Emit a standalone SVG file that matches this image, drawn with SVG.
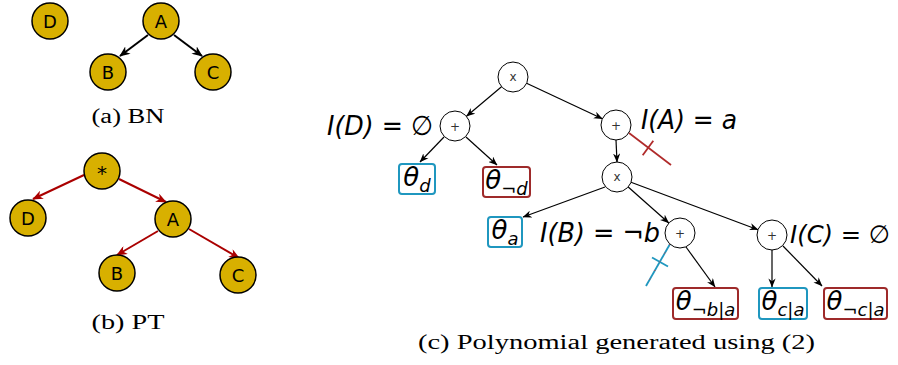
<svg xmlns="http://www.w3.org/2000/svg" width="898" height="365" viewBox="0 0 898 365">
<defs>
  <marker id="ah-a" viewBox="0 0 12 10" refX="11" refY="5" markerWidth="11" markerHeight="9" markerUnits="userSpaceOnUse" orient="auto">
    <path d="M0,0 L12,5 L0,10 L3.5,5 Z" fill="#000"/>
  </marker>
  <marker id="ah-b" viewBox="0 0 12 10" refX="11" refY="5" markerWidth="11" markerHeight="9" markerUnits="userSpaceOnUse" orient="auto">
    <path d="M0,0 L12,5 L0,10 L3.5,5 Z" fill="#aa0000"/>
  </marker>
  <marker id="ah-c" viewBox="0 0 10 8" refX="9.5" refY="4" markerWidth="9" markerHeight="7.5" markerUnits="userSpaceOnUse" orient="auto">
    <path d="M0,0 L10,4 L0,8 L3,4 Z" fill="#000"/>
  </marker>
</defs>
<style>
  .bn circle { fill: #d8b000; stroke: #000; stroke-width: 1.5; }
  .bn text { font-family: "DejaVu Sans", sans-serif; font-size: 18px; text-anchor: middle; fill: #000; }
  .op circle { fill: #fff; stroke: #000; stroke-width: 1; }
  .op text { font-family: "DejaVu Sans", sans-serif; font-size: 12px; text-anchor: middle; fill: #333; }
  .cap { font-family: "Liberation Serif", "Times New Roman", serif; font-size: 20px; fill: #000; text-anchor: middle; }
  .ea { stroke: #000; stroke-width: 2; fill: none; marker-end: url(#ah-a); }
  .eb { stroke: #aa0000; stroke-width: 2; fill: none; marker-end: url(#ah-b); }
  .ec { stroke: #000; stroke-width: 1.2; fill: none; marker-end: url(#ah-c); }
  .lbl { font-family: "DejaVu Sans", sans-serif; font-style: oblique; font-size: 27px; fill: #000; }
  .box-b { fill: #fff; stroke: #1f97bf; stroke-width: 2; }
  .box-r { fill: #fff; stroke: #9e2a2a; stroke-width: 2; }
  .th { font-family: "DejaVu Sans", sans-serif; font-style: oblique; font-size: 26px; fill: #000; text-anchor: middle; }
  .sub { font-size: 18px; }
</style>

<!-- (a) BN -->
<g id="connectors-a">
  <line class="ea" x1="148" y1="35" x2="120" y2="56"/>
  <line class="ea" x1="174" y1="35" x2="202" y2="56"/>
</g>
<g id="a-D" class="bn"><circle cx="50" cy="21" r="18"/><text x="50" y="27.5">D</text></g>
<g id="a-A" class="bn"><circle cx="161" cy="21" r="18"/><text x="161" y="27.5">A</text></g>
<g id="a-B" class="bn"><circle cx="108" cy="72" r="18"/><text x="108" y="78.5">B</text></g>
<g id="a-C" class="bn"><circle cx="213" cy="72" r="18"/><text x="213" y="78.5">C</text></g>
<text class="cap" x="128" y="123" textLength="73" lengthAdjust="spacingAndGlyphs">(a) BN</text>

<!-- (b) PT -->
<g id="connectors-b">
  <line class="eb" x1="84" y1="175" x2="33" y2="199"/>
  <line class="eb" x1="119" y1="179" x2="166" y2="202"/>
  <line class="eb" x1="158" y1="231" x2="117" y2="255"/>
  <line class="eb" x1="189" y1="229" x2="239" y2="258"/>
</g>
<g id="b-root" class="bn"><circle cx="102" cy="171" r="18"/><text x="102" y="180" style="font-size:20px">*</text></g>
<g id="b-D" class="bn"><circle cx="28" cy="218" r="18"/><text x="28" y="224.5">D</text></g>
<g id="b-A" class="bn"><circle cx="173" cy="219" r="18"/><text x="173" y="225.5">A</text></g>
<g id="b-B" class="bn"><circle cx="117" cy="273" r="18"/><text x="117" y="279.5">B</text></g>
<g id="b-C" class="bn"><circle cx="238" cy="275" r="18"/><text x="238" y="281.5">C</text></g>
<text class="cap" x="128" y="329" textLength="73" lengthAdjust="spacingAndGlyphs">(b) PT</text>

<!-- (c) Polynomial -->
<g id="connectors-c">
  <line class="ec" x1="501.5" y1="86.7" x2="466.5" y2="116.3"/>
  <line class="ec" x1="526.6" y1="83.3" x2="602.4" y2="118.7"/>
  <line class="ec" x1="444" y1="137" x2="420" y2="162"/>
  <line class="ec" x1="466" y1="137" x2="497" y2="165"/>
  <line class="ec" x1="616" y1="140" x2="617" y2="162"/>
  <line class="ec" x1="605" y1="187" x2="523" y2="217"/>
  <line class="ec" x1="628.2" y1="187" x2="668.8" y2="223"/>
  <line class="ec" x1="631" y1="182.3" x2="758" y2="229.7"/>
  <line class="ec" x1="686" y1="247" x2="715" y2="287"/>
  <line class="ec" x1="772" y1="250" x2="772" y2="287"/>
  <line class="ec" x1="783" y1="246" x2="822" y2="286"/>
  <!-- pruned branches -->
  <g stroke="#b02a2a" stroke-width="1.8" fill="none">
    <line x1="629" y1="133" x2="671" y2="165"/>
    <line x1="653.3" y1="140.8" x2="642.7" y2="155.2"/>
  </g>
  <g stroke="#1f97bf" stroke-width="1.8" fill="none">
    <line x1="670" y1="244" x2="646" y2="286"/>
    <line x1="652" y1="257.5" x2="668" y2="266.5"/>
  </g>
  <line x1="670" y1="244" x2="646" y2="286" stroke="#e03030" stroke-width="1" stroke-dasharray="1 9"/>
</g>

<g id="c-times1" class="op"><circle cx="513" cy="77" r="15"/><text x="513" y="81">x</text></g>
<g id="c-plusD" class="op"><circle cx="455" cy="126" r="15"/><text x="455" y="130.5">+</text></g>
<g id="c-plusA" class="op"><circle cx="616" cy="125" r="15"/><text x="616" y="129.5">+</text></g>
<g id="c-times2" class="op"><circle cx="617" cy="177" r="15"/><text x="617" y="181">x</text></g>
<g id="c-plusB" class="op"><circle cx="680" cy="233" r="15"/><text x="680" y="237.5">+</text></g>
<g id="c-plusC" class="op"><circle cx="772" cy="235" r="15"/><text x="772" y="239.5">+</text></g>

<g id="c-labels">
  <text class="lbl" x="327" y="135" textLength="106" lengthAdjust="spacingAndGlyphs">I(D) = ∅</text>
  <text class="lbl" x="641" y="129" textLength="96" lengthAdjust="spacingAndGlyphs">I(A) = a</text>
  <text class="lbl" x="540" y="242" textLength="120" lengthAdjust="spacingAndGlyphs">I(B) = ¬b</text>
  <text class="lbl" x="790" y="243" style="font-size:25px" textLength="100" lengthAdjust="spacingAndGlyphs">I(C) = ∅</text>
</g>

<g id="c-theta-d"><rect class="box-b" x="399" y="164" width="36" height="30" rx="3"/><text class="th" x="417" y="186">θ<tspan class="sub" dy="6">d</tspan></text></g>
<g id="c-theta-nd"><rect class="box-r" x="483" y="167" width="47" height="30" rx="3"/><text class="th" x="506.5" y="189">θ<tspan class="sub" dy="6">¬d</tspan></text></g>
<g id="c-theta-a"><rect class="box-b" x="488" y="217" width="34" height="30" rx="3"/><text class="th" x="505" y="239">θ<tspan class="sub" dy="6">a</tspan></text></g>
<g id="c-theta-nba"><rect class="box-r" x="673" y="288" width="65" height="31" rx="3"/><text class="th" x="705.5" y="310">θ<tspan class="sub" dy="6">¬b|a</tspan></text></g>
<g id="c-theta-ca"><rect class="box-b" x="759" y="288" width="48" height="31" rx="3"/><text class="th" x="783" y="310">θ<tspan class="sub" dy="6">c|a</tspan></text></g>
<g id="c-theta-nca"><rect class="box-r" x="824" y="288" width="63" height="31" rx="3"/><text class="th" x="855.5" y="310">θ<tspan class="sub" dy="6">¬c|a</tspan></text></g>

<text class="cap" x="616.5" y="349" textLength="397" lengthAdjust="spacingAndGlyphs">(c) Polynomial generated using (2)</text>
</svg>
